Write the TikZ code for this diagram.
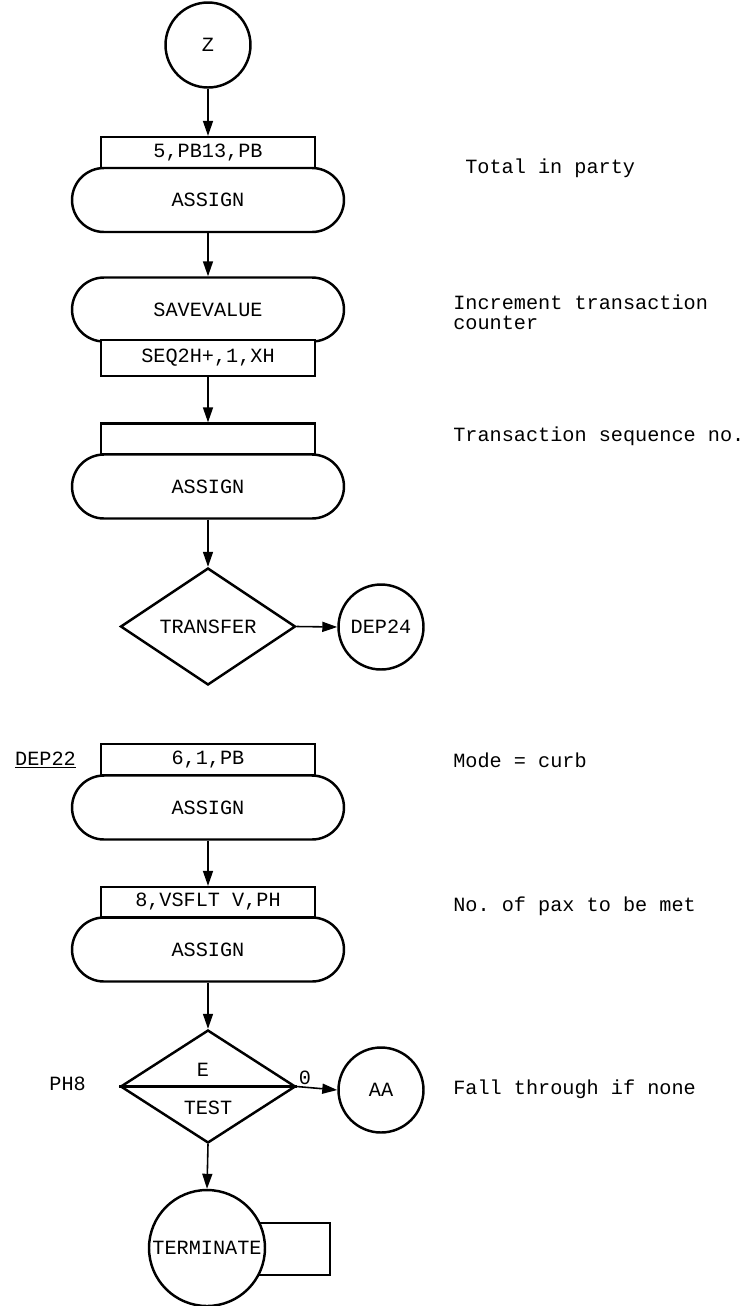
\documentclass[tikz,border=0pt]{standalone}
\usepackage{fontspec}
\setmonofont{Liberation Mono}
\usepackage{tikz}
\usetikzlibrary{arrows.meta,positioning,shapes.geometric,shapes.misc}

\begin{document}
\begin{tikzpicture}[
  x=0.02cm, y=-0.02cm,
  font=\ttfamily\fontsize{11.5}{11.4}\selectfont,
  blockbox/.style={draw, line width=1.4pt, rounded rectangle, fill=white,
                   minimum width=5.44cm, minimum height=1.28cm, inner sep=0pt},
  opbox/.style={draw, line width=1.3pt, fill=white,
                minimum width=4.28cm, minimum height=0.62cm, inner sep=0pt},
  linkcirc/.style={draw, line width=1.4pt, circle, fill=white,
                   minimum size=1.7cm, inner sep=0pt},
  decision/.style={draw, line width=1.4pt, diamond, minimum width=3.5cm,
                   minimum height=2.34cm, inner sep=0pt},
  note/.style={anchor=west, align=left, inner sep=0pt},
  arr/.style={-{Triangle[length=3mm,width=2mm]}, line width=0.9pt}
]
\useasboundingbox (0,0) rectangle (744,1306);
%--- Part 1: entry Z ---------------------------------------------------------
\node[linkcirc] (z) at (208,45) {Z};
\node[opbox] (opa) at (208,152.5) {5,PB13,PB};
\node[blockbox] (asga) at (208,200) {ASSIGN};
\node[blockbox] (sav) at (208,309.5) {SAVEVALUE};
\node[opbox, minimum height=0.72cm] (opb) at (208,358) {SEQ2H+,1,XH};
\node[opbox] (opc) at (208,439) {};
\node[blockbox] (asgb) at (208,486.5) {ASSIGN};
\node[decision] (xfer) at (208,626.5) {TRANSFER};
\node[linkcirc] (dep24) at (381,627) {DEP24};
%--- Part 2: entry DEP22 -----------------------------------------------------
\node[anchor=east] (dep22) at (82,760) {\underline{DEP22}};
\node[opbox] (opd) at (208,759.5) {6,1,PB};
\node[blockbox] (asgc) at (208,807.5) {ASSIGN};
\node[opbox, minimum height=0.6cm] (ope) at (208,902) {8,VSFLT V,PH};
\node[blockbox] (asgd) at (208,949.5) {ASSIGN};
\node[decision, minimum height=2.26cm] (test) at (208,1086.5) {};
\draw[line width=1.4pt] (test.west) -- (test.east);
\node (teste) at (203,1070) {E};
\node (testname) at (208,1108) {TEST};
\node[anchor=south west, inner sep=1pt] (zero) at (test.east) {0};
\node[anchor=east] (ph8) at (92,1084) {PH8};
\node[linkcirc] (aa) at (381,1090) {AA};
\node[draw, line width=1.4pt, minimum width=1.6cm, minimum height=1.04cm] (termbox) at (290,1249) {};
\node[linkcirc, minimum size=2.32cm] (term) at (207,1248) {TERMINATE};
%--- Comments ----------------------------------------------------------------
\node[note] (n1) at (465,168) {Total in party};
\node[note] (n2) at (453,312) {Increment transaction\\counter};
\node[note] (n3) at (453,436) {Transaction sequence no.};
\node[note] (n4) at (453,760) {Mode = curb};
\node[note] (n5) at (453,906) {No. of pax to be met};
\node[note] (n6) at (453,1089) {Fall through if none};
%--- Arrows ------------------------------------------------------------------
\draw[arr] (z.south) -- (opa.north);
\draw[arr] (asga.south) -- (sav.north);
\draw[arr] (opb.south) -- (opc.north);
\draw[arr] (asgb.south) -- (xfer.north);
\draw[arr] (xfer.east) -- (dep24.west);
\draw[arr] (asgc.south) -- (ope.north);
\draw[arr] (asgd.south) -- (test.north);
\draw[arr] (test.east) -- (aa.west);
\draw[arr] (test.south) -- (term.north);
\end{tikzpicture}
\end{document}
